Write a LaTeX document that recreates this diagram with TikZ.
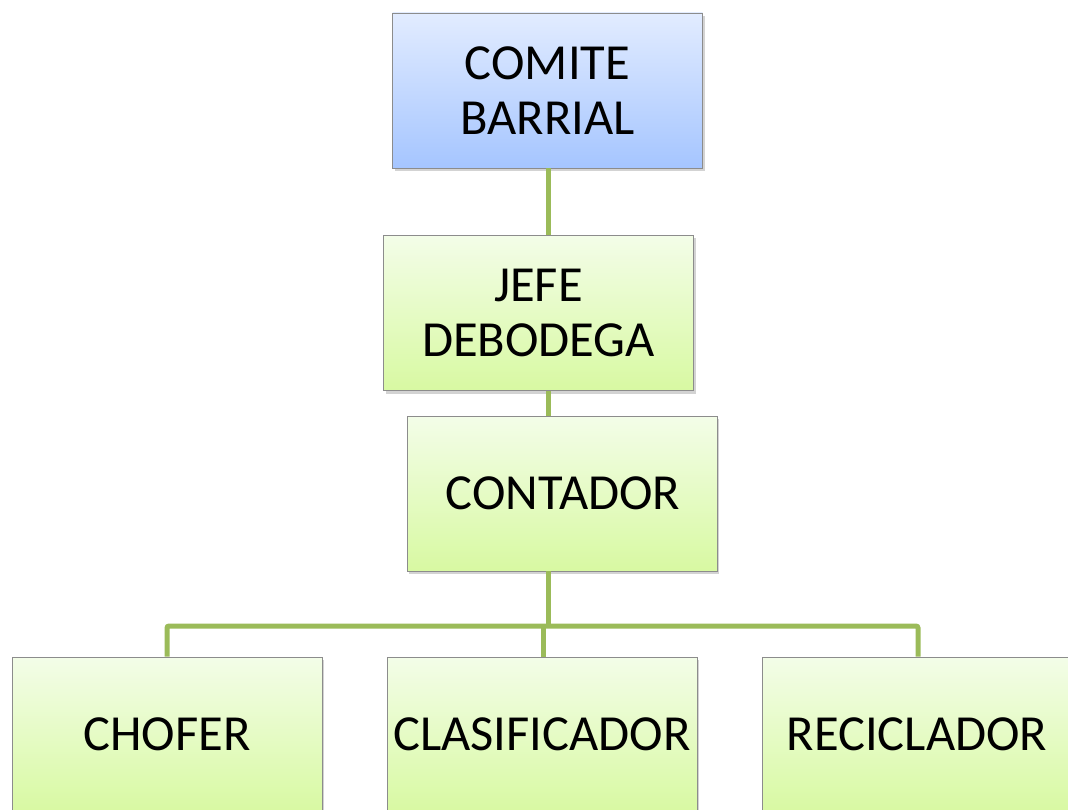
\documentclass[tikz,border=0pt]{standalone}
\usepackage{fontspec}
\setmainfont{Carlito}
\usetikzlibrary{shadows}
\definecolor{linegreen}{HTML}{9BBB59}
\definecolor{gtop}{HTML}{F3FDE8}
\definecolor{gbot}{HTML}{D8F9A2}
\definecolor{btop}{HTML}{E2ECFF}
\definecolor{bbot}{HTML}{A5C5FF}
\tikzset{
  box/.style={draw=black!45, line width=0.8pt, minimum width=310pt, minimum height=155pt,
    inner sep=0pt, align=center, font=\fontsize{50.5}{55}\selectfont,
    top color=gtop, bottom color=gbot,
    drop shadow={opacity=0.35, shadow xshift=2pt, shadow yshift=-3pt}},
  bluebox/.style={box, top color=btop, bottom color=bbot},
  conn/.style={draw=linegreen, line width=5pt, rounded corners=2pt}
}
\begin{document}
\begin{tikzpicture}[x=1pt,y=-1pt]
\useasboundingbox (0,0) rectangle (1068,810);
\clip (0,0) rectangle (1068,810);
\coordinate (hub) at (548,626);
\coordinate (lh) at (167,626);
\coordinate (rh) at (918,626);
\coordinate (mh) at (543,626);
\node[bluebox] (comite) at (547.5,90.5) {COMITE\\BARRIAL};
\node[box] (jefe) at (538.5,313) {JEFE\\DEBODEGA};
\node[box] (contador) at (562,493.5) {\hspace*{2pt}CONTADOR};
\node[box] (chofer) at (167,734.5) {CHOFER};
\node[box] (clas) at (542,734.5) {CLASIFICADOR};
\node[box] (recic) at (917,734.5) {RECICLADOR};
\draw[conn] (comite.south -| hub) -- (jefe.north -| hub);
\draw[conn] (jefe.south -| hub) -- (contador.north -| hub);
\draw[conn] (contador.south -| hub) -- (hub);
\draw[conn] (chofer.north -| lh) -- (lh) -- (rh) -- (recic.north -| rh);
\draw[conn] (mh) -- (clas.north -| mh);
\end{tikzpicture}
\end{document}
